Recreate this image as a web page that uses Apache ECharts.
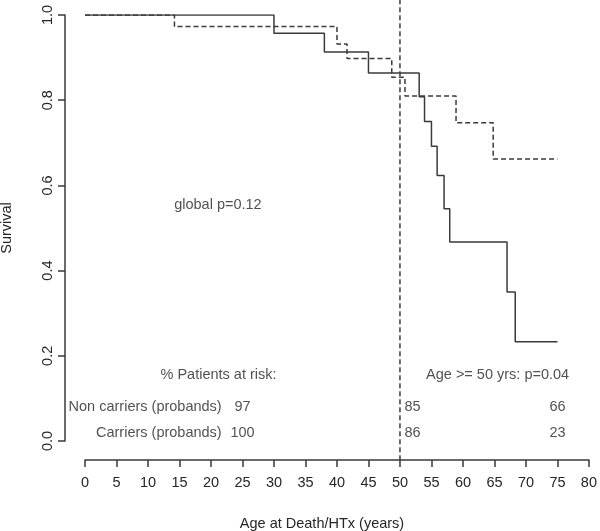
<!DOCTYPE html>
<html>
<head>
<meta charset="utf-8">
<script src="https://cdn.jsdelivr.net/npm/echarts@6/dist/echarts.min.js"></script>
<style>
html,body{margin:0;padding:0;background:#fff;}
#chart{width:600px;height:531px;}
</style>
</head>
<body>
<div id="chart"></div>
<script>
// Kaplan-Meier curves (time in years, survival)
var carrierTimes    = [0, 30, 38, 45, 53.05, 53.9, 55.0, 55.9, 57.0, 57.9, 67.0, 68.3, 75];
var carrierSurv     = [1.0, 0.957, 0.913, 0.864, 0.808, 0.750, 0.692, 0.623, 0.545, 0.467, 0.350, 0.233, 0.233];
var nonCarrierTimes = [0, 14.2, 40, 41.6, 48.7, 50.8, 58.9, 64.8, 75];
var nonCarrierSurv  = [1.0, 0.973, 0.932, 0.898, 0.854, 0.810, 0.747, 0.662, 0.662];

// Vertical reference line
var cutAge = 50;

// Axis ticks
var xTicks = [0, 5, 10, 15, 20, 25, 30, 35, 40, 45, 50, 55, 60, 65, 70, 75, 80];
var yTicks = [0.0, 0.2, 0.4, 0.6, 0.8, 1.0];

// Risk table
var riskAges        = [25, 52, 75];
var nonCarrierRisk  = [97, 85, 66];
var carrierRisk     = [100, 86, 23];
var riskRowLabels   = ['Non carriers (probands)', 'Carriers (probands)'];
var riskRowY        = [0.080, 0.018];
var riskLabelX      = 21.7;

// Text annotations (data coordinates)
var noteText = ['global p=0.12', '% Patients at risk:', 'Age >= 50 yrs: p=0.04'];
var noteX    = [21.1, 21.2, 65.5];
var noteY    = [0.554, 0.155, 0.155];

var FONT = 'Liberation Sans, Arial, sans-serif';
var FS = 14.5;
var TXT = '#262626';
var LINE = '#3a3a3a';

function zip(a, b) { return a.map(function (v, i) { return [v, b[i]]; }); }

var labelItems = [];
noteText.forEach(function (t, i) {
  labelItems.push({ value: [noteX[i], noteY[i]], label: { formatter: t, align: 'center' } });
});
riskRowLabels.forEach(function (t, i) {
  labelItems.push({ value: [riskLabelX, riskRowY[i]], label: { formatter: t, align: 'right' } });
});
riskAges.forEach(function (a, i) {
  labelItems.push({ value: [a, riskRowY[0]], label: { formatter: String(nonCarrierRisk[i]), align: 'center' } });
  labelItems.push({ value: [a, riskRowY[1]], label: { formatter: String(carrierRisk[i]), align: 'center' } });
});

var chart = echarts.init(document.getElementById('chart'), null, { renderer: 'canvas' });
chart.setOption({
  animation: false,
  backgroundColor: '#fff',
  textStyle: { fontFamily: FONT },
  grid: { left: 85, right: 7, top: 15, bottom: 90, containLabel: false },
  xAxis: {
    type: 'value', min: xTicks[0], max: xTicks[xTicks.length - 1], interval: 5,
    offset: 19,
    axisLine: { show: true, onZero: false, lineStyle: { color: LINE, width: 1.5 } },
    axisTick: { show: true, length: 7, lineStyle: { color: LINE, width: 1.5 } },
    axisLabel: { color: TXT, fontSize: FS, fontFamily: FONT, margin: 15 },
    splitLine: { show: false }
  },
  yAxis: {
    type: 'value', min: yTicks[0], max: yTicks[yTicks.length - 1], interval: 0.2,
    offset: 20,
    axisLine: { show: true, onZero: false, lineStyle: { color: LINE, width: 1.5 } },
    axisTick: { show: true, length: 7, lineStyle: { color: LINE, width: 1.5 } },
    axisLabel: { color: TXT, fontSize: FS, fontFamily: FONT, rotate: 90, margin: 10,
      formatter: function (v) { return v.toFixed(1); } },
    splitLine: { show: false }
  },
  graphic: [
    { type: 'text', x: 322, y: 524, style: { text: 'Age at Death/HTx (years)', fill: TXT,
      font: FS + 'px ' + FONT, align: 'center', verticalAlign: 'middle' } },
    { type: 'text', x: 7, y: 228, rotation: Math.PI / 2, style: { text: 'Survival', fill: TXT,
      font: FS + 'px ' + FONT, align: 'center', verticalAlign: 'middle' } }
  ],
  series: [
    {
      type: 'line', step: 'end', data: zip(carrierTimes, carrierSurv),
      symbol: 'none', lineStyle: { color: LINE, width: 1.5, type: 'solid' }, silent: true
    },
    {
      type: 'line', step: 'end', data: zip(nonCarrierTimes, nonCarrierSurv),
      symbol: 'none', lineStyle: { color: LINE, width: 1.5, type: [5, 3] }, silent: true
    },
    {
      type: 'line', data: [[cutAge, -0.045], [cutAge, 1.04]], clip: false,
      symbol: 'none', lineStyle: { color: LINE, width: 1.5, type: [5, 3] }, silent: true
    },
    {
      type: 'scatter', data: labelItems, symbolSize: 0, silent: true, clip: false,
      itemStyle: { color: 'transparent' },
      label: { show: true, position: 'inside', verticalAlign: 'middle', color: TXT,
        fontSize: FS, fontFamily: FONT }
    }
  ]
});
</script>
</body>
</html>
